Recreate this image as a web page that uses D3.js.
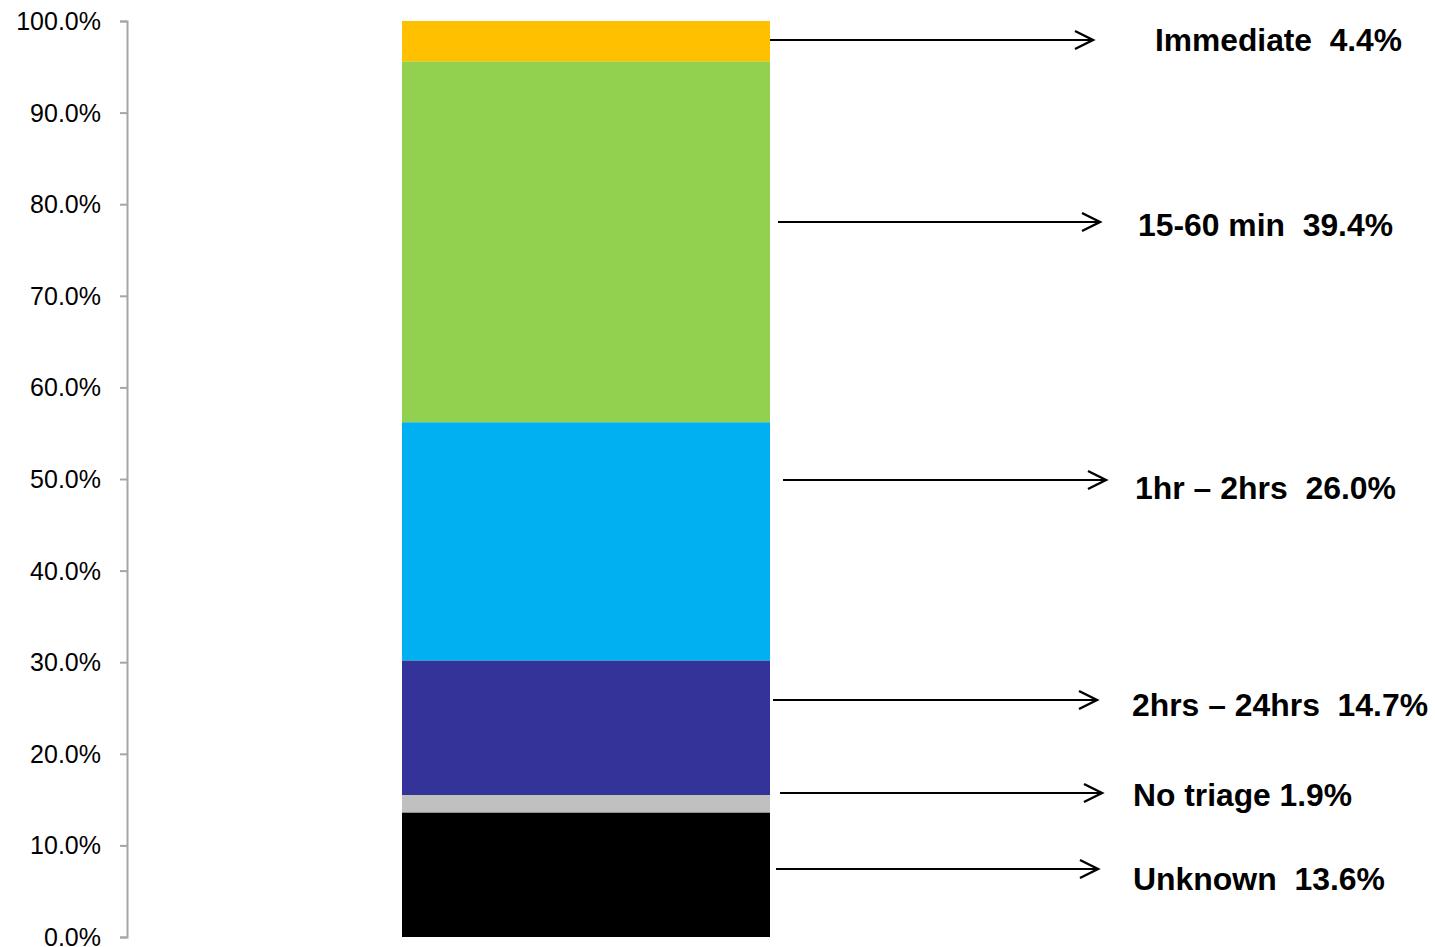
<!DOCTYPE html>
<html><head><meta charset="utf-8">
<script src="https://cdn.jsdelivr.net/npm/d3@7"></script>
<style>body{margin:0;background:#fff;} svg{display:block;}</style>
</head><body>
<svg id="c" width="1435" height="947"></svg>
<script>
const categories = ["Unknown", "No triage", "2hrs – 24hrs", "1hr – 2hrs", "15-60 min", "Immediate"];
const values = [13.6, 1.9, 14.7, 26.0, 39.4, 4.4];
const colors = ["#000000", "#C0C0C0", "#333399", "#00B0F0", "#92D050", "#FFC000"];
const labelTexts = ["Unknown  13.6%", "No triage 1.9%", "2hrs – 24hrs  14.7%", "1hr – 2hrs  26.0%", "15-60 min  39.4%", "Immediate  4.4%"];
const arrowAt = [7.4, 15.7, 25.9, 49.9, 78.1, 97.9];
const labelAt = [6.3, 15.5, 25.3, 49.0, 77.8, 97.9];
const tickValues = [0,10,20,30,40,50,60,70,80,90,100];

const svg = d3.select("#c");
const y = d3.scaleLinear().domain([0,100]).range([937,21]);
const x = d3.scaleBand().domain(["All"]).range([402,770]).padding(0);

// axis
const ax = svg.append("g").attr("transform","translate(127,0)")
  .call(d3.axisLeft(y).tickValues(tickValues).tickFormat(d => d3.format(".1f")(d) + "%").tickSizeInner(7).tickSizeOuter(7).tickPadding(19));
ax.select(".domain").attr("stroke","#A6A6A6").attr("stroke-width",2);
ax.selectAll(".tick line").attr("stroke","#A6A6A6").attr("stroke-width",2);
ax.selectAll(".tick text").attr("font-family","'Liberation Sans', Arial, sans-serif").attr("font-size",25).attr("fill","#000").attr("dy","0.34em");

// stacked bar
let cum = 0;
const segs = values.map((v,i) => { const s = {cat:categories[i], y0:cum, y1:cum+v, color:colors[i]}; cum += v; return s; });
svg.append("g").selectAll("rect").data(segs).join("rect")
  .attr("x", x("All")).attr("width", x.bandwidth())
  .attr("y", d => y(d.y1)).attr("height", d => y(d.y0) - y(d.y1))
  .attr("fill", d => d.color);

// arrows + labels
const arrowX0 = [776, 780, 773, 783, 778, 770];
const arrowX1 = [1098, 1102, 1097, 1106, 1100, 1093];
const labelX = [1133, 1133, 1132, 1135, 1138, 1155];
const labelW = [252, 219, 296, 261, 255, 247];
const g = svg.append("g");
categories.forEach((c,i) => {
  const yy = Math.round(y(arrowAt[i]));
  g.append("line").attr("x1", arrowX0[i]).attr("x2", arrowX1[i]).attr("y1", yy).attr("y2", yy)
    .attr("stroke","#000").attr("stroke-width",2.2);
  g.append("path").attr("d", `M${arrowX1[i]-18},${yy-9} L${arrowX1[i]},${yy} L${arrowX1[i]-18},${yy+9}`)
    .attr("fill","none").attr("stroke","#000").attr("stroke-width",2.4);
  g.append("text").attr("x", labelX[i]).attr("y", y(labelAt[i])).attr("dy","0.36em")
    .attr("font-family","'Liberation Sans', Arial, sans-serif").attr("font-weight","bold").attr("font-size",31)
    .attr("xml:space","preserve").style("white-space","pre")
    .attr("textLength", labelW[i]).attr("lengthAdjust","spacingAndGlyphs")
    .text(labelTexts[i]);
});
</script>
</body></html>
